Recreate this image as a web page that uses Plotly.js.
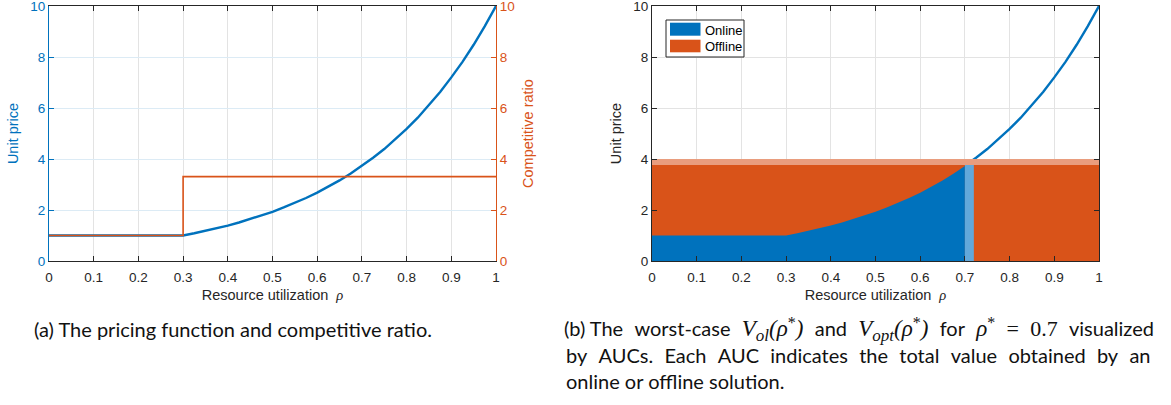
<!DOCTYPE html>
<html>
<head>
<meta charset="utf-8">
<script src="https://cdn.plot.ly/plotly-3.0.1.min.js"></script>
<style>html,body{margin:0;padding:0;background:#fff;}#chart{width:1171px;height:405px;}</style>
</head>
<body>
<div id="chart"></div>
<script>
// ---- data ----
const rho = [0, 0.1, 0.2, 0.3, 0.325, 0.35, 0.375, 0.4, 0.425, 0.45, 0.475, 0.5, 0.525, 0.55, 0.575, 0.6, 0.625, 0.65, 0.675, 0.7,
             0.725, 0.75, 0.775, 0.8, 0.825, 0.85, 0.875, 0.9, 0.925, 0.95, 0.975, 1.0];
const unitPrice = [1, 1, 1, 1, 1.09, 1.18, 1.28, 1.39, 1.51, 1.64, 1.78, 1.93, 2.10, 2.28, 2.47, 2.68, 2.91, 3.16, 3.43, 3.73,
                   4.05, 4.39, 4.77, 5.18, 5.62, 6.11, 6.63, 7.20, 7.81, 8.48, 9.21, 10];
const crRho = [0, 0.3, 0.3, 1];
const crValue = [1, 1, 3.31, 3.31];
const rhoStar = 0.7;
const bandEnd = 0.72;
const offlineLevel = 3.76;
const offlineTop = 4.0;
const xTicks = [0, 0.1, 0.2, 0.3, 0.4, 0.5, 0.6, 0.7, 0.8, 0.9, 1];
const xTickText = ['0', '0.1', '0.2', '0.3', '0.4', '0.5', '0.6', '0.7', '0.8', '0.9', '1'];
const yTicks = [0, 2, 4, 6, 8, 10];
const yTickText = ['0', '2', '4', '6', '8', '10'];
const legendNames = ['Online', 'Offline'];

const BLUE = '#0072BD', ORANGE = '#D95319';
const LBLUE = '#62A8DA', LORANGE = '#E99D7E';
const FONT = 'Liberation Sans, Arial, sans-serif';
const CAP = 'Lato, sans-serif';
const MATH = 'Liberation Serif, serif';
const W = 1171, H = 405;
const px = v => v / W, py = v => 1 - v / H;

const onX = [], onY = [];
rho.forEach((r, i) => { if (r <= rhoStar + 1e-9) { onX.push(r); onY.push(unitPrice[i]); } });

const traces = [
  // left plot
  {x: rho, y: unitPrice, xaxis: 'x', yaxis: 'y', mode: 'lines', line: {color: BLUE, width: 2.4}, showlegend: false, hoverinfo: 'skip'},
  {x: crRho, y: crValue, xaxis: 'x', yaxis: 'y2', mode: 'lines', line: {color: ORANGE, width: 1.6}, showlegend: false, hoverinfo: 'skip'},
  // right plot
  {x: rho, y: unitPrice, xaxis: 'x2', yaxis: 'y3', mode: 'lines', line: {color: BLUE, width: 2.4}, showlegend: false, hoverinfo: 'skip'},
  {x: [0, 1], y: [offlineLevel, offlineLevel], xaxis: 'x2', yaxis: 'y3', mode: 'lines', fill: 'tozeroy', fillcolor: ORANGE, line: {width: 0, color: ORANGE}, name: legendNames[1], showlegend: false, hoverinfo: 'skip'},
  {x: [0, 1, 1, 0, 0], y: [offlineLevel, offlineLevel, offlineTop, offlineTop, offlineLevel], xaxis: 'x2', yaxis: 'y3', mode: 'lines', fill: 'toself', fillcolor: LORANGE, line: {width: 0, color: LORANGE}, showlegend: false, hoverinfo: 'skip'},
  {x: onX, y: onY, xaxis: 'x2', yaxis: 'y3', mode: 'lines', fill: 'tozeroy', fillcolor: BLUE, line: {width: 0, color: BLUE}, name: legendNames[0], showlegend: false, hoverinfo: 'skip'},
  {x: [rhoStar, bandEnd, bandEnd, rhoStar, rhoStar], y: [0, 0, offlineLevel, offlineLevel, 0], xaxis: 'x2', yaxis: 'y3', mode: 'lines', fill: 'toself', fillcolor: LBLUE, line: {width: 0, color: LBLUE}, showlegend: false, hoverinfo: 'skip'}
];

const yDom = [py(261), py(6)];
const TS = 13.5, TT = 14.5;
const tickFont = {family: FONT, size: TS, color: '#262626'};
const xCommon = {
  range: [0, 1], tickvals: xTicks, ticktext: xTickText, ticks: 'inside', ticklen: 5, tickcolor: '#262626',
  showline: true, linecolor: '#262626', linewidth: 1, mirror: 'ticks', showgrid: true, gridcolor: '#e3e3e3',
  zeroline: false, tickfont: tickFont, fixedrange: true, ticklabeloverflow: 'allow', ticklabelstandoff: 4
};
const yCommon = {range: [0, 10], tickvals: yTicks, ticktext: yTickText, ticks: 'inside', ticklen: 5, showline: true, linewidth: 1,
  zeroline: false, fixedrange: true, ticklabeloverflow: 'allow'};
const rhoTitle = 'Resource utilization  <span style="font-family:' + MATH + ';font-style:italic">ρ</span>';

// caption (b)
const m = s => '<span style="font-family:' + MATH + ';font-style:italic;font-size:23px">' + s + '</span>';
const ms = s => '<span style="font-family:' + MATH + ';font-style:italic;font-size:17px">' + s + '</span>';
const star = '<span style="font-family:' + MATH + ';font-size:16px">*</span>';
const rn = s => '<span style="font-family:' + MATH + ';font-size:22px">' + s + '</span>';
const sp = '\u2002\u200A';
const line1 = ['(b) The', 'worst-case',
  m('V') + '<sub>' + ms('ol') + '</sub>' + m('(ρ') + '<sup>' + star + '</sup>' + m(')'), 'and',
  m('V') + '<sub>' + ms('opt') + '</sub>' + m('(ρ') + '<sup>' + star + '</sup>' + m(')'), 'for',
  m('ρ') + '<sup>' + star + '</sup>', rn('='), rn('0.7'), 'visualized'].join(sp);
const line2 = 'by AUCs. Each AUC indicates the total value obtained by an'.split(' ').join(sp);

const capFont = {family: CAP, size: 20, color: '#111'};
const annotations = [
  {xref: 'paper', yref: 'paper', x: px(703), y: py(30.5), xanchor: 'left', yanchor: 'middle', showarrow: false, text: legendNames[0], font: {family: FONT, size: 13, color: '#000'}},
  {xref: 'paper', yref: 'paper', x: px(703), y: py(47), xanchor: 'left', yanchor: 'middle', showarrow: false, text: legendNames[1], font: {family: FONT, size: 13, color: '#000'}},
  {xref: 'paper', yref: 'paper', x: px(32), y: py(329), xanchor: 'left', yanchor: 'middle', showarrow: false,
    text: '(a) The pricing function and competitive ratio.', font: capFont},
  {xref: 'paper', yref: 'paper', x: px(562), y: py(329), xanchor: 'left', yanchor: 'middle', showarrow: false,
    text: line1, font: capFont},
  {xref: 'paper', yref: 'paper', x: px(564), y: py(355), xanchor: 'left', yanchor: 'middle', showarrow: false,
    text: line2, font: capFont},
  {xref: 'paper', yref: 'paper', x: px(564), y: py(381), xanchor: 'left', yanchor: 'middle', showarrow: false,
    text: 'online or offline solution.', font: capFont}
];

const layout = {
  width: W, height: H, margin: {l: 0, r: 0, t: 0, b: 0}, paper_bgcolor: '#fff', plot_bgcolor: 'rgba(0,0,0,0)',
  showlegend: false,
  xaxis: Object.assign({}, xCommon, {domain: [px(49), px(496)], anchor: 'y',
    title: {text: rhoTitle, font: {family: FONT, size: TT, color: '#262626'}, standoff: 5}}),
  yaxis: Object.assign({}, yCommon, {domain: yDom, anchor: 'x', tickcolor: BLUE, linecolor: BLUE, showgrid: true, gridcolor: '#dcebf5',
    tickfont: {family: FONT, size: TS, color: BLUE},
    title: {text: 'Unit price', font: {family: FONT, size: TT, color: BLUE}, standoff: 8}}),
  yaxis2: Object.assign({}, yCommon, {overlaying: 'y', side: 'right', anchor: 'x', tickcolor: ORANGE, linecolor: ORANGE, showgrid: false,
    tickfont: {family: FONT, size: TS, color: ORANGE},
    title: {text: 'Competitive ratio', font: {family: FONT, size: TT, color: ORANGE}, standoff: 9}}),
  xaxis2: Object.assign({}, xCommon, {domain: [px(652), px(1099)], anchor: 'y3',
    title: {text: rhoTitle, font: {family: FONT, size: TT, color: '#262626'}, standoff: 5}}),
  yaxis3: Object.assign({}, yCommon, {domain: yDom, anchor: 'x2', tickcolor: '#262626', linecolor: '#262626', mirror: 'ticks',
    showgrid: true, gridcolor: '#e3e3e3', tickfont: tickFont,
    title: {text: 'Unit price', font: {family: FONT, size: TT, color: '#262626'}, standoff: 8}}),
  shapes: [
    {type: 'rect', xref: 'paper', yref: 'paper', x0: px(666), x1: px(744), y0: py(57), y1: py(20), line: {color: '#262626', width: 1}, fillcolor: '#fff', layer: 'above'},
    {type: 'rect', xref: 'paper', yref: 'paper', x0: px(670), x1: px(700.5), y0: py(35.7), y1: py(22.7), line: {width: 0}, fillcolor: BLUE, layer: 'above'},
    {type: 'rect', xref: 'paper', yref: 'paper', x0: px(670), x1: px(700.5), y0: py(52.3), y1: py(39.7), line: {width: 0}, fillcolor: ORANGE, layer: 'above'}
  ],
  annotations: annotations
};

Plotly.newPlot('chart', traces, layout, {staticPlot: true, displayModeBar: false});
</script>
</body>
</html>
